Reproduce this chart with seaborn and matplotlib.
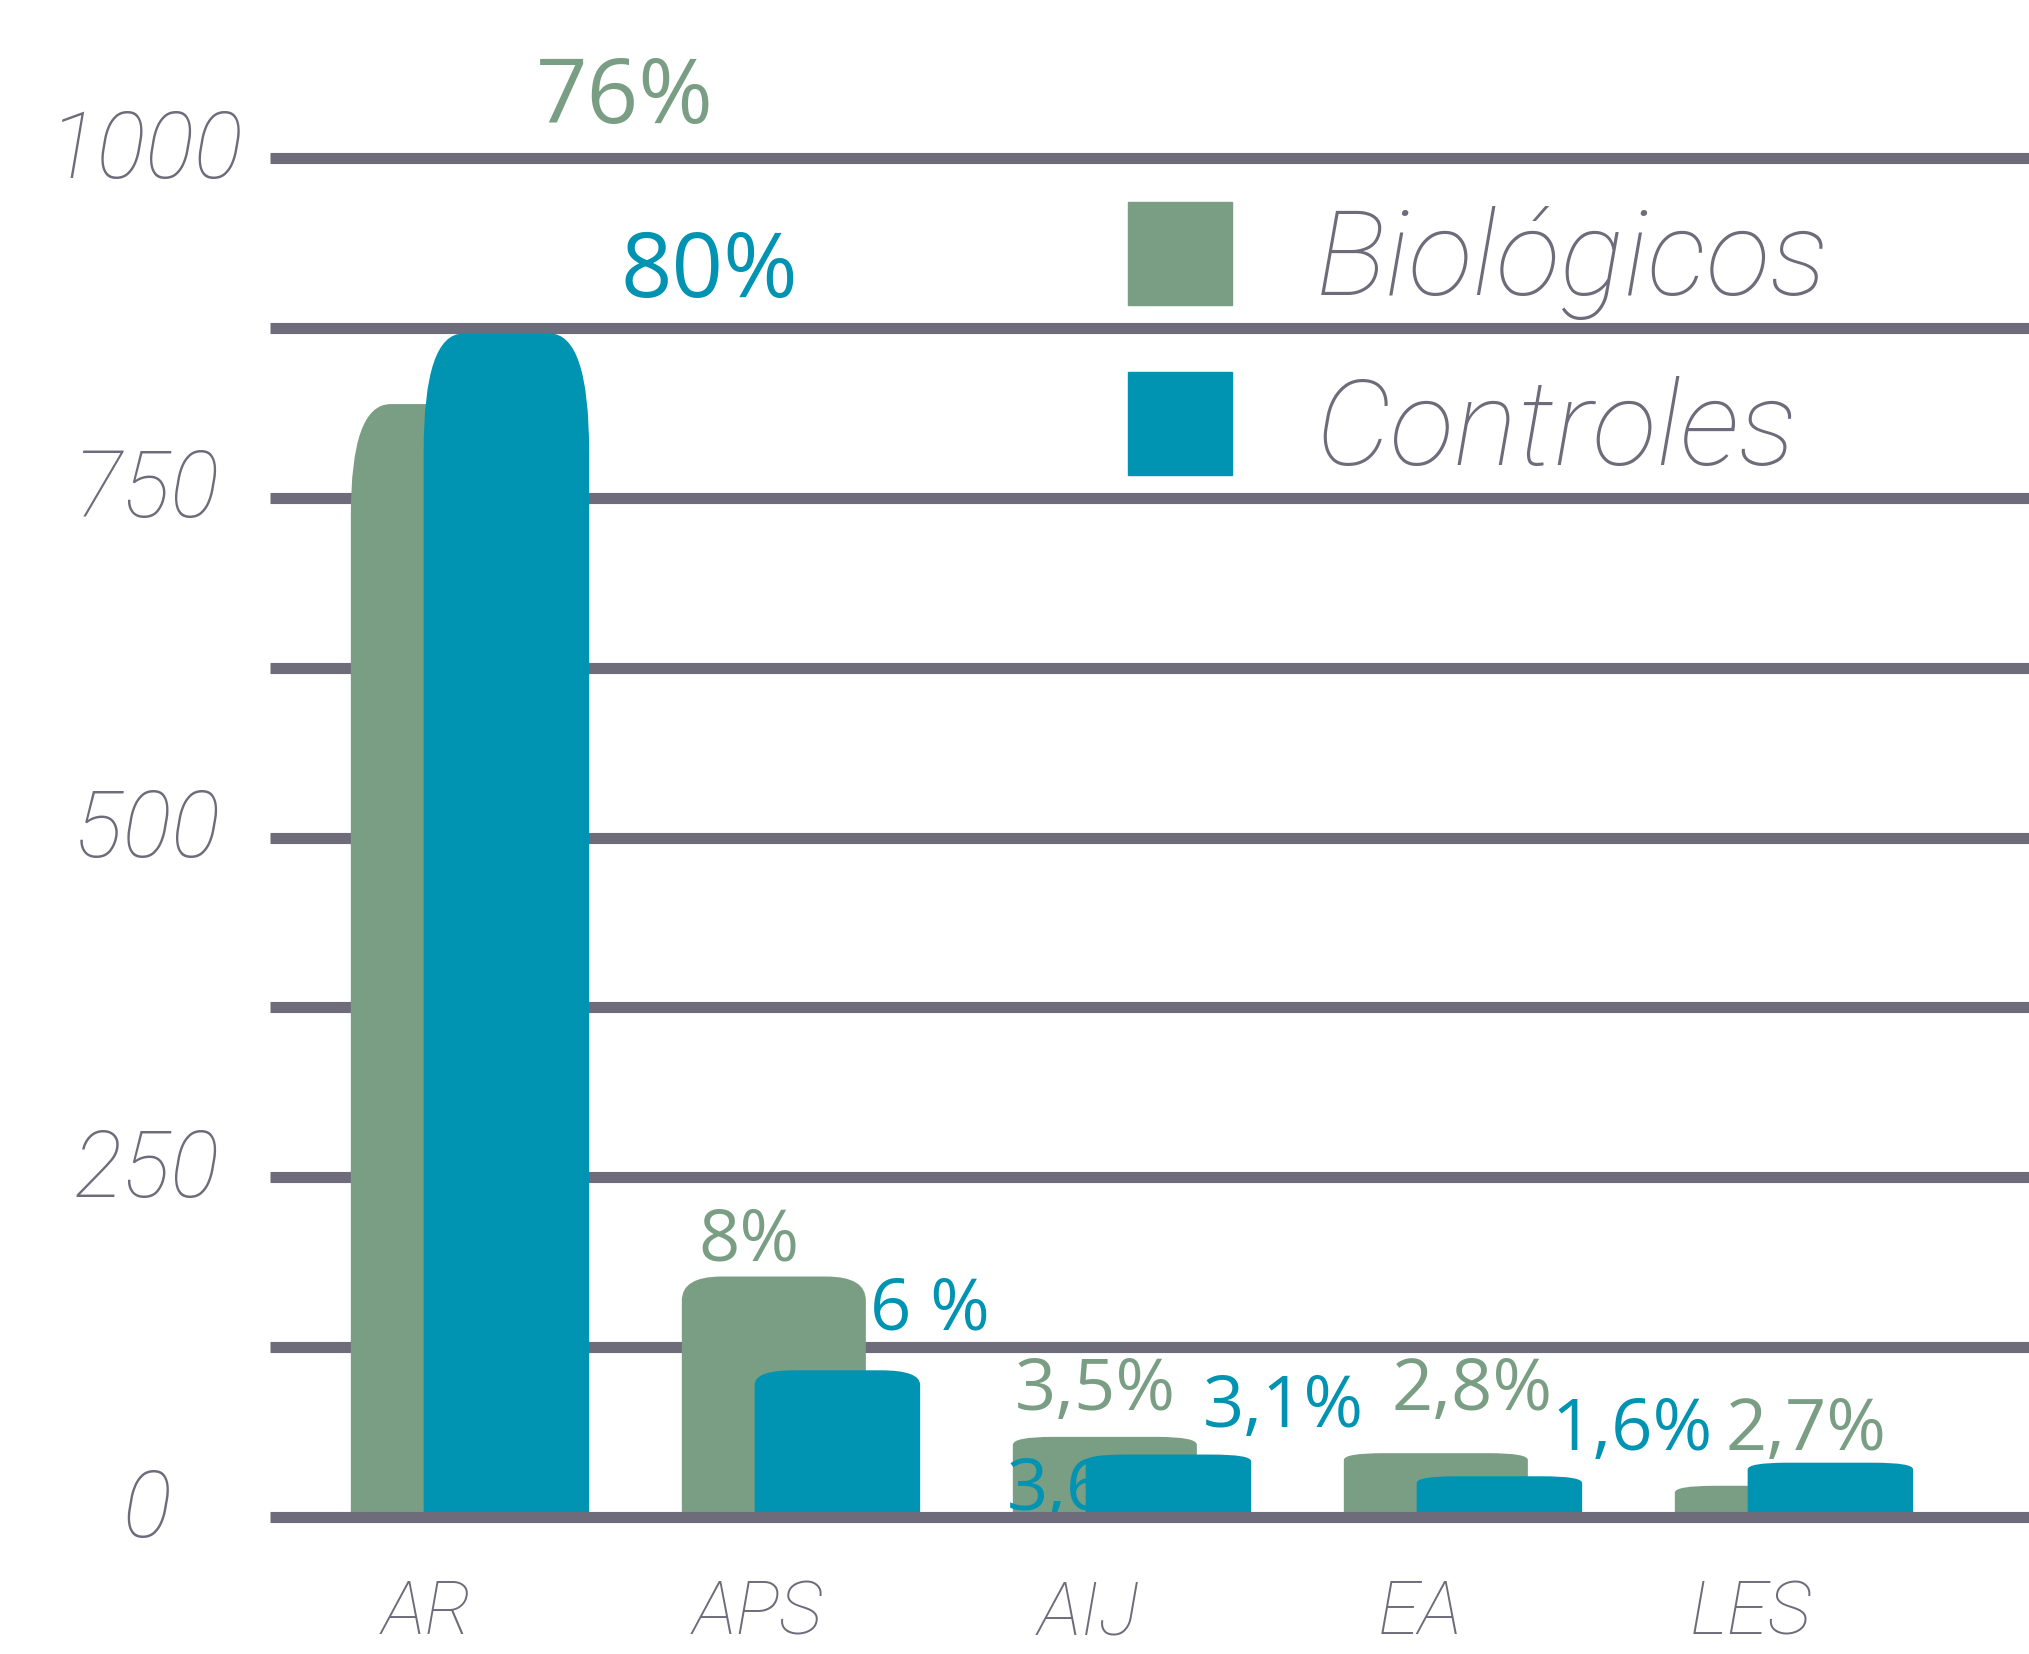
import numpy as np
import seaborn as sns
import matplotlib.pyplot as plt
from matplotlib.patches import FancyBboxPatch, Patch
from matplotlib.transforms import ScaledTranslation

# data
categorias = ["AR", "APS", "AIJ", "EA", "LES"]
biologicos = [819, 177, 59, 47, 23]
controles = [871, 108, 46, 30, 40]
series = ["Biológicos", "Controles"]
y_ticks = [0, 250, 500, 750, 1000]
grid_step = 125

# percentage labels as printed on the chart
pct_text = ["76%", "80%", "8%", "6 %", "3,5%", "3,6", "3,1%", "2,8%", "1,6%", "2,7%"]
pct_serie = [0, 1, 0, 1, 0, 1, 1, 0, 1, 0]
pct_x = [0.598, 0.852, 0.973, 1.52, 2.02, 1.905, 2.586, 3.157, 3.64, 4.166]
pct_y = [1026, 898, 189, 138, 79, 5, 66, 79, 49, 49]
pct_big = [True, True, False, False, False, False, False, False, False, False]

verde = "#7a9e84"
azul = "#0093b2"
gris = "#6e6b7a"
colores = [verde, azul]

sns.set_style("white")
plt.rcParams["font.family"] = ["Roboto", "DejaVu Sans"]
gray_font = {"family": "Roboto", "style": "italic", "weight": "light"}

fig = plt.figure(figsize=(20.29, 16.54), dpi=100)
ax = fig.add_axes([0.1331, 0.0828, 0.8669, 0.8216])

pos = np.arange(len(categorias))

sns.barplot(x=pos + 0.048, y=biologicos, native_scale=True, width=0.556,
            color=verde, saturation=1, errorbar=None, ax=ax)
n_bio = len(ax.patches)
sns.barplot(x=pos + 0.24, y=controles, native_scale=True, width=0.5,
            color=azul, saturation=1, errorbar=None, ax=ax)


def round_tops(patches, color, z):
    # swap the flat bars for ones with rounded tops
    for p in patches:
        x, w, h = p.get_x(), p.get_width(), p.get_height()
        p.remove()
        rx = 0.12
        ry = max(5, 0.1 * h)
        box = FancyBboxPatch((x, -ry - 30), w, h + ry + 30,
                             boxstyle=f"round,pad=0,rounding_size={rx}",
                             mutation_aspect=ry / rx, fc=color, ec="none", zorder=z)
        ax.add_patch(box)


all_p = list(ax.patches)
round_tops(all_p[:n_bio], verde, 2)
round_tops(all_p[n_bio:], azul, 3)

for v in range(0, 1001, grid_step):
    ax.axhline(v, color=gris, lw=8, solid_capstyle="butt",
               zorder=1 if v > 0 else 5, clip_on=False)

ax.set_xlim(-0.474, 4.84)
ax.set_ylim(0, 1000)
sns.despine(ax=ax, left=True, bottom=True)
ax.grid(False)

ax.set_xticks(pos)
ax.set_xticklabels(categorias, fontsize=54, color=gris, **gray_font)
ax.tick_params(axis="x", length=0, pad=44)
ax.set_yticks(y_ticks)
ax.set_yticklabels([str(v) for v in y_ticks], fontsize=66, color=gris, **gray_font)
ax.tick_params(axis="y", length=0, pad=89)
for lab in ax.get_yticklabels():
    lab.set_horizontalalignment("center")
    lab.set_transform(lab.get_transform() + ScaledTranslation(0, 11 / 72, fig.dpi_scale_trans))
ax.set_xlabel("")
ax.set_ylabel("")

for t, s, x, y, big in zip(pct_text, pct_serie, pct_x, pct_y, pct_big):
    ax.text(x, y, t, color=colores[s], fontsize=65 if big else 52, family="Open Sans",
            ha="center", va="baseline", zorder=2.5, clip_on=False)

handles = [Patch(color=c) for c in colores]
leg = ax.legend(handles, series, loc="upper left", bbox_to_anchor=(1128 / 2029, 1 - 202 / 1654),
                bbox_transform=fig.transFigure, frameon=False,
                handlelength=0.87, handleheight=0.95, handletextpad=0.7,
                labelspacing=0.44, borderpad=0, borderaxespad=0,
                prop=dict(gray_font, size=86),
                labelcolor=gris)

fig.savefig("out.png", dpi=100)
